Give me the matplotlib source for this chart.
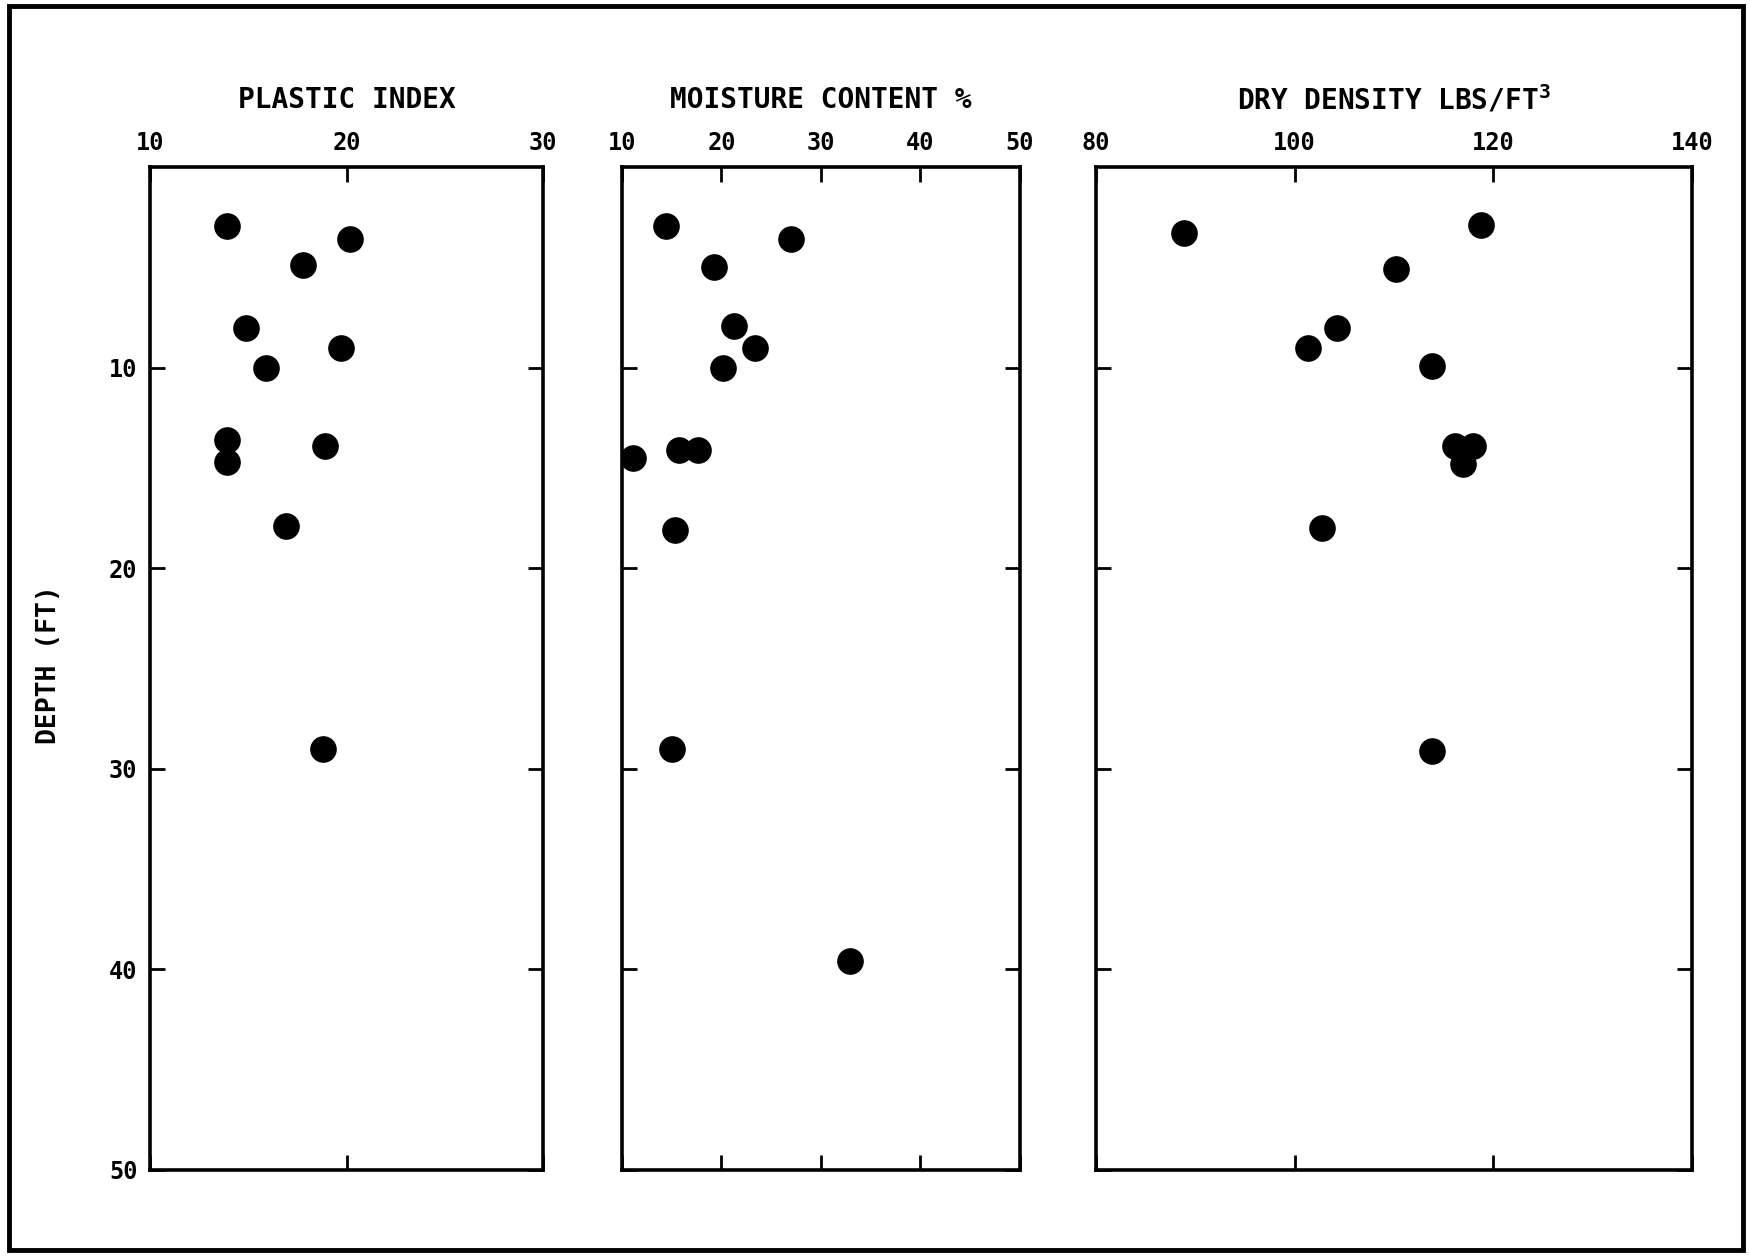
import matplotlib.pyplot as plt
from matplotlib.patches import Rectangle

plt.rcParams['font.family'] = ['DejaVu Sans Mono']
plt.rcParams['font.weight'] = 'bold'
plt.rcParams['mathtext.fontset'] = 'custom'
plt.rcParams['mathtext.rm'] = 'DejaVu Sans Mono:bold'
plt.rcParams['mathtext.bf'] = 'DejaVu Sans Mono:bold'

# plastic index vs depth
pi_val = [13.9, 20.2, 17.8, 14.9, 19.7, 15.9, 13.9, 18.9, 13.9, 16.9, 18.8]
pi_depth = [2.95, 3.6, 4.9, 8.0, 9.0, 10.0, 13.6, 13.9, 14.7, 17.9, 29.0]

# moisture content vs depth
mc_val = [14.4, 27.0, 19.3, 21.3, 23.4, 20.2, 11.1, 15.7, 17.6, 15.3, 15.0, 32.9]
mc_depth = [2.95, 3.6, 5.0, 7.9, 9.0, 10.0, 14.5, 14.1, 14.1, 18.1, 29.0, 39.6]

# dry density vs depth
dd_val = [88.9, 118.8, 110.2, 104.3, 101.3, 113.8, 116.1, 117.9, 116.9, 102.7, 113.8]
dd_depth = [3.3, 2.9, 5.1, 8.0, 9.0, 9.9, 13.9, 13.9, 14.8, 18.0, 29.1]

titles = ['PLASTIC INDEX', 'MOISTURE CONTENT %', r'DRY DENSITY LBS/FT$^{\mathbf{3}}$']
xlims = [(10, 30), (10, 50), (80, 140)]
xticks = [[10, 20, 30], [10, 20, 30, 40, 50], [80, 100, 120, 140]]
depth_ticks = [10, 20, 30, 40, 50]

fig = plt.figure(figsize=(17.5, 12.56), dpi=100)
fig.patches.append(Rectangle((9 / 1750, 6 / 1256), 1734 / 1750, 1244 / 1256,
                             transform=fig.transFigure, fill=False,
                             edgecolor='black', linewidth=3.5))

boxes = [(0.0857, 0.2246), (0.3554, 0.2274), (0.6263, 0.3406)]
data = [(pi_val, pi_depth), (mc_val, mc_depth), (dd_val, dd_depth)]

for i, ((left, width), (xv, dv)) in enumerate(zip(boxes, data)):
    ax = fig.add_axes([left, 0.0685, width, 0.7985])
    ax.scatter(xv, dv, s=330, color='black', zorder=3)
    ax.set_xlim(*xlims[i])
    ax.set_ylim(50, 0)
    ax.set_xticks(xticks[i])
    ax.set_yticks(depth_ticks)
    ax.xaxis.tick_top()
    ax.tick_params(axis='x', which='both', direction='in', length=11, width=2,
                   top=True, bottom=True, labeltop=True, labelbottom=False,
                   labelsize=17, pad=9)
    ax.tick_params(axis='y', direction='in', length=11, width=2,
                   left=True, right=True, labelleft=(i == 0), labelsize=17, pad=9)
    for sp in ax.spines.values():
        sp.set_linewidth(2.6)
    ax.text(0.5, 1.067, titles[i], transform=ax.transAxes, ha='center',
            va='center', fontsize=20, fontweight='bold')

fig.text(0.028, 0.471, 'DEPTH (FT)', rotation=90, ha='center', va='center',
         fontsize=19, fontweight='bold')

fig.savefig('out.png', dpi=100)
